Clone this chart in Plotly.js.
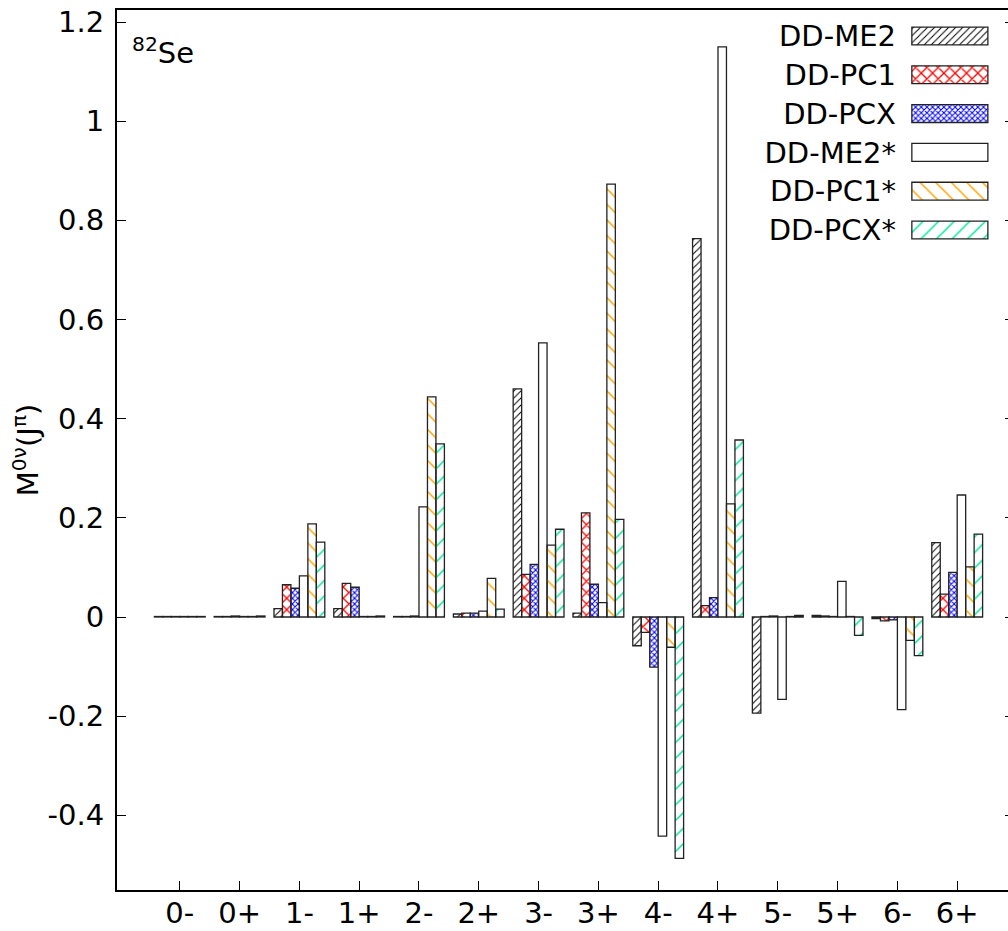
<!DOCTYPE html>
<html>
<head>
<meta charset="utf-8">
<script src="https://cdn.plot.ly/plotly-3.0.1.min.js"></script>
<style>
html,body{margin:0;padding:0;overflow:hidden;background:#fff;}
#chart{width:1016px;height:931px;}
</style>
</head>
<body>
<div id="chart"></div>
<script>
// categories (J^pi)
const categories = ["0-","0+","1-","1+","2-","2+","3-","3+","4-","4+","5-","5+","6-","6+"];
// series names
const seriesNames = ["DD-ME2","DD-PC1","DD-PCX","DD-ME2*","DD-PC1*","DD-PCX*"];
// values
const ddME2     = [0.001, 0.001, 0.017, 0.017, 0.001, 0.006, 0.460, 0.008, -0.058, 0.763, -0.194, 0.003, -0.003, 0.150];
const ddPC1     = [0.001, 0.001, 0.065, 0.068, 0.001, 0.008, 0.086, 0.210, -0.031, 0.023, 0.001, 0.002, -0.008, 0.046];
const ddPCX     = [0.001, 0.002, 0.058, 0.060, 0.002, 0.008, 0.106, 0.066, -0.101, 0.039, 0.002, 0.001, -0.006, 0.090];
const ddME2s    = [0.001, 0.001, 0.083, 0.001, 0.222, 0.012, 0.553, 0.029, -0.442, 1.150, -0.166, 0.072, -0.187, 0.246];
const ddPC1s    = [0.001, 0.001, 0.188, 0.001, 0.444, 0.078, 0.145, 0.873, -0.061, 0.228, 0.001, 0.001, -0.047, 0.101];
const ddPCXs    = [0.001, 0.002, 0.151, 0.002, 0.349, 0.016, 0.177, 0.197, -0.487, 0.357, 0.003, -0.037, -0.078, 0.167];
// y tick labels
const yTickVals  = [-0.4, -0.2, 0, 0.2, 0.4, 0.6, 0.8, 1, 1.2];
const yTickText  = ["-0.4", "-0.2", "0", "0.2", "0.4", "0.6", "0.8", "1", "1.2"];

const seriesValues = [ddME2, ddPC1, ddPCX, ddME2s, ddPC1s, ddPCXs];

const FONT = "DejaVu Sans, Verdana, sans-serif";
const FS = 29;
const lineStyle = {color: "#222", width: 1.3};
const patterns = [
  {shape: "/",  fgcolor: "#000000", size: 5,  solidity: 0.2},
  {shape: "x",  fgcolor: "#ff0000", size: 8,  solidity: 0.3},
  {shape: "x",  fgcolor: "#0000ff", size: 4,  solidity: 0.45},
  {shape: "",   fgcolor: "#000000", size: 8,  solidity: 0.3},
  {shape: "\\", fgcolor: "#ffa500", size: 11, solidity: 0.14},
  {shape: "/",  fgcolor: "#00e89a", size: 11, solidity: 0.14}
];

const traces = [];
seriesNames.forEach((name, i) => {
  traces.push({
    type: "bar",
    name: name,
    x: categories,
    y: seriesValues[i],
    xaxis: "x", yaxis: "y",
    marker: {color: "#ffffff", line: lineStyle, pattern: patterns[i]},
    hoverinfo: "x+y+name"
  });
});
// legend swatches drawn as a small subplot (text on the left, swatch on the right)
seriesNames.forEach((name, i) => {
  traces.push({
    type: "bar",
    orientation: "h",
    x: [1],
    y: [name],
    base: 0,
    width: 0.46,
    offset: -0.23,
    xaxis: "x2", yaxis: "y2",
    marker: {color: "#ffffff", line: lineStyle, pattern: patterns[i]},
    hoverinfo: "skip"
  });
});

const layout = {
  width: 1016, height: 931,
  margin: {l: 117, r: 2, t: 10, b: 41},
  paper_bgcolor: "#fff", plot_bgcolor: "#fff",
  showlegend: false,
  barmode: "group",
  bargap: 0.15,
  bargroupgap: 0,
  font: {family: FONT, size: FS, color: "#000"},
  xaxis: {
    type: "category",
    range: [-1.05, 13.95],
    showline: true, linecolor: "#000", linewidth: 2, mirror: true,
    ticks: "inside", ticklen: 9, tickcolor: "#000", tickwidth: 1,
    showgrid: false, zeroline: false,
    tickfont: {family: FONT, size: FS, color: "#000"},
    ticklabelstandoff: -4
  },
  yaxis: {
    range: [-0.5506, 1.2242],
    tickvals: yTickVals, ticktext: yTickText,
    showline: true, linecolor: "#000", linewidth: 2, mirror: "ticks",
    ticks: "inside", ticklen: 9, tickcolor: "#000", tickwidth: 1,
    showgrid: false, zeroline: false,
    tickfont: {family: FONT, size: FS, color: "#000"},
    ticklabelstandoff: 5,
    title: {text: "M<sup>0ν</sup>(J<sup>π</sup>)", font: {family: FONT, size: FS, color: "#000"}, standoff: 0}
  },
  xaxis2: {
    domain: [0.884, 0.973], anchor: "y2",
    range: [-0.025, 1.025], visible: false, fixedrange: true
  },
  yaxis2: {
    domain: [0.728, 0.9925], anchor: "x2",
    type: "category", categoryorder: "array", categoryarray: seriesNames,
    range: [5.5, -0.5],
    showline: false, showgrid: false, zeroline: false, ticks: "",
    tickfont: {family: FONT, size: FS, color: "#000"},
    ticklabelstandoff: 13, fixedrange: true
  },
  annotations: [{
    xref: "paper", yref: "paper", x: 0.015, y: 0.977,
    xanchor: "left", yanchor: "top", showarrow: false,
    text: "<sup>82</sup>Se", font: {family: FONT, size: FS, color: "#000"}
  }]
};

Plotly.newPlot("chart", traces, layout, {displayModeBar: false, staticPlot: true});
</script>
</body>
</html>
